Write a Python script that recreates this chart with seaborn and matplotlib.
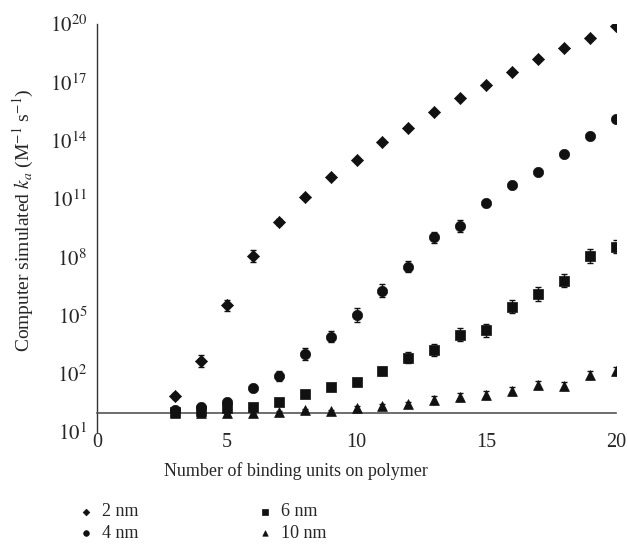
import numpy as np
import pandas as pd
import matplotlib
matplotlib.use("Agg")
import matplotlib.pyplot as plt
import seaborn as sns
from matplotlib.ticker import FixedLocator, FixedFormatter

# binding units on polymer
units = list(range(3, 21))

# log10 of simulated ka
log_2nm = [0.84, 2.67, 5.52, 8.06, 9.83, 11.10, 12.14, 13.00, 13.91, 14.66,
           15.47, 16.21, 16.88, 17.55, 18.18, 18.76, 19.26, 19.90]
log_4nm = [0.13, 0.30, 0.56, 1.27, 1.88, 3.02, 3.91, 5.02, 6.28, 7.51,
           9.02, 9.62, 10.79, 11.73, 12.40, 13.29, 14.25, 15.13]
log_6nm = [0.05, 0.10, 0.24, 0.30, 0.56, 0.94, 1.30, 1.59, 2.14, 2.83,
           3.22, 4.01, 4.23, 5.45, 6.10, 6.79, 8.06, 8.54]
log_10nm = [0.00, 0.00, 0.00, 0.00, 0.03, 0.13, 0.10, 0.22, 0.36, 0.44,
            0.63, 0.80, 0.92, 1.11, 1.42, 1.37, 1.92, 2.14]

# error bar half-widths, in decades
err_2nm = [0.15, 0.3, 0.3, 0.3, 0.15, 0.1, 0.1, 0.1, 0.1, 0.1,
           0.1, 0.1, 0.1, 0.1, 0.1, 0.1, 0.1, 0.1]
err_4nm = [0.1, 0.1, 0.1, 0.15, 0.25, 0.3, 0.3, 0.35, 0.35, 0.3,
           0.3, 0.3, 0.15, 0.15, 0.15, 0.15, 0.15, 0.15]
err_6nm = [0.1, 0.1, 0.1, 0.1, 0.1, 0.1, 0.1, 0.1, 0.2, 0.3,
           0.3, 0.35, 0.35, 0.35, 0.35, 0.35, 0.35, 0.35]
err_10nm = [0.05, 0.05, 0.05, 0.05, 0.05, 0.05, 0.05, 0.1, 0.1, 0.1,
            0.2, 0.2, 0.2, 0.2, 0.2, 0.2, 0.2, 0.2]

series = [
    ("2 nm", log_2nm, err_2nm, "D", 38),
    ("4 nm", log_4nm, err_4nm, "o", 55),
    ("6 nm", log_6nm, err_6nm, "s", 48),
    ("10 nm", log_10nm, err_10nm, "^", 50),
]

ytick_exp = [-1, 2, 5, 8, 11, 14, 17, 20]
ytick_labels = ["$10^{1}$", "$10^{2}$", "$10^{5}$", "$10^{8}$",
                "$10^{11}$", "$10^{14}$", "$10^{17}$", "$10^{20}$"]
xticks = [0, 5, 10, 15, 20]

sns.set_style("white")
plt.rcParams["font.family"] = ["Liberation Serif", "DejaVu Serif"]
plt.rcParams["mathtext.fontset"] = "stix"

fig = plt.figure(figsize=(6.28, 5.46), dpi=100)
ax = fig.add_axes([0.1545, 0.2088, 0.8265, 0.7472])

for label, logs, errs, marker, size in series:
    logs = np.array(logs, dtype=float)
    errs = np.array(errs, dtype=float)
    df = pd.DataFrame({"units": units, "ka": 10.0 ** logs})
    lower = df["ka"] - 10.0 ** (logs - errs)
    upper = 10.0 ** (logs + errs) - df["ka"]
    ax.errorbar(df["units"], df["ka"], yerr=[lower, upper], fmt="none",
                ecolor="#111111", elinewidth=1.0, capsize=2, capthick=1.0, zorder=2)
    sns.scatterplot(data=df, x="units", y="ka", marker=marker, s=size,
                    color="#111111", edgecolor="#111111", linewidth=0.5,
                    label=label, ax=ax, zorder=3)

ax.set_yscale("log")
ax.set_ylim(1e-1, 1e20)
ax.set_xlim(0, 20)
ax.yaxis.set_major_locator(FixedLocator([10.0 ** e for e in ytick_exp]))
ax.yaxis.set_major_formatter(FixedFormatter(ytick_labels))
ax.yaxis.set_minor_locator(FixedLocator([]))
ax.set_xticks(xticks)
ax.set_xticklabels([str(t) for t in xticks])

# horizontal axis crosses at 1, labels stay at the bottom
for side in ["top", "right"]:
    ax.spines[side].set_visible(False)
ax.spines["bottom"].set_position(("data", 1))
ax.spines["bottom"].set_color("#555555")
ax.spines["left"].set_color("#333333")
ax.spines["bottom"].set_linewidth(1.2)
ax.spines["left"].set_linewidth(1.0)
ax.tick_params(axis="x", direction="out", length=4, width=1, color="#555555",
               pad=11, labelsize=14.5)
ax.tick_params(axis="y", direction="out", length=4, width=1, color="#333333",
               pad=3, labelsize=15)

ax.set_ylabel("Computer simulated $k_a$ (M$^{-1}$ s$^{-1}$)", fontsize=14)
ax.set_xlabel("Number of binding units on polymer", fontsize=13)
ax.xaxis.set_label_coords((296 - 97) / 519, -0.075)
ax.yaxis.set_label_coords(-0.118, 0.52)

handles, labels = ax.get_legend_handles_labels()
ax.get_legend().remove()
fig.legend(handles, labels, ncol=2, loc="upper left",
           bbox_to_anchor=(0.096, 0.108), frameon=False, fontsize=13,
           markerscale=0.55, handletextpad=0.4, columnspacing=6.5,
           labelspacing=0.25, handlelength=1.0)

fig.savefig("out.png", dpi=100)
